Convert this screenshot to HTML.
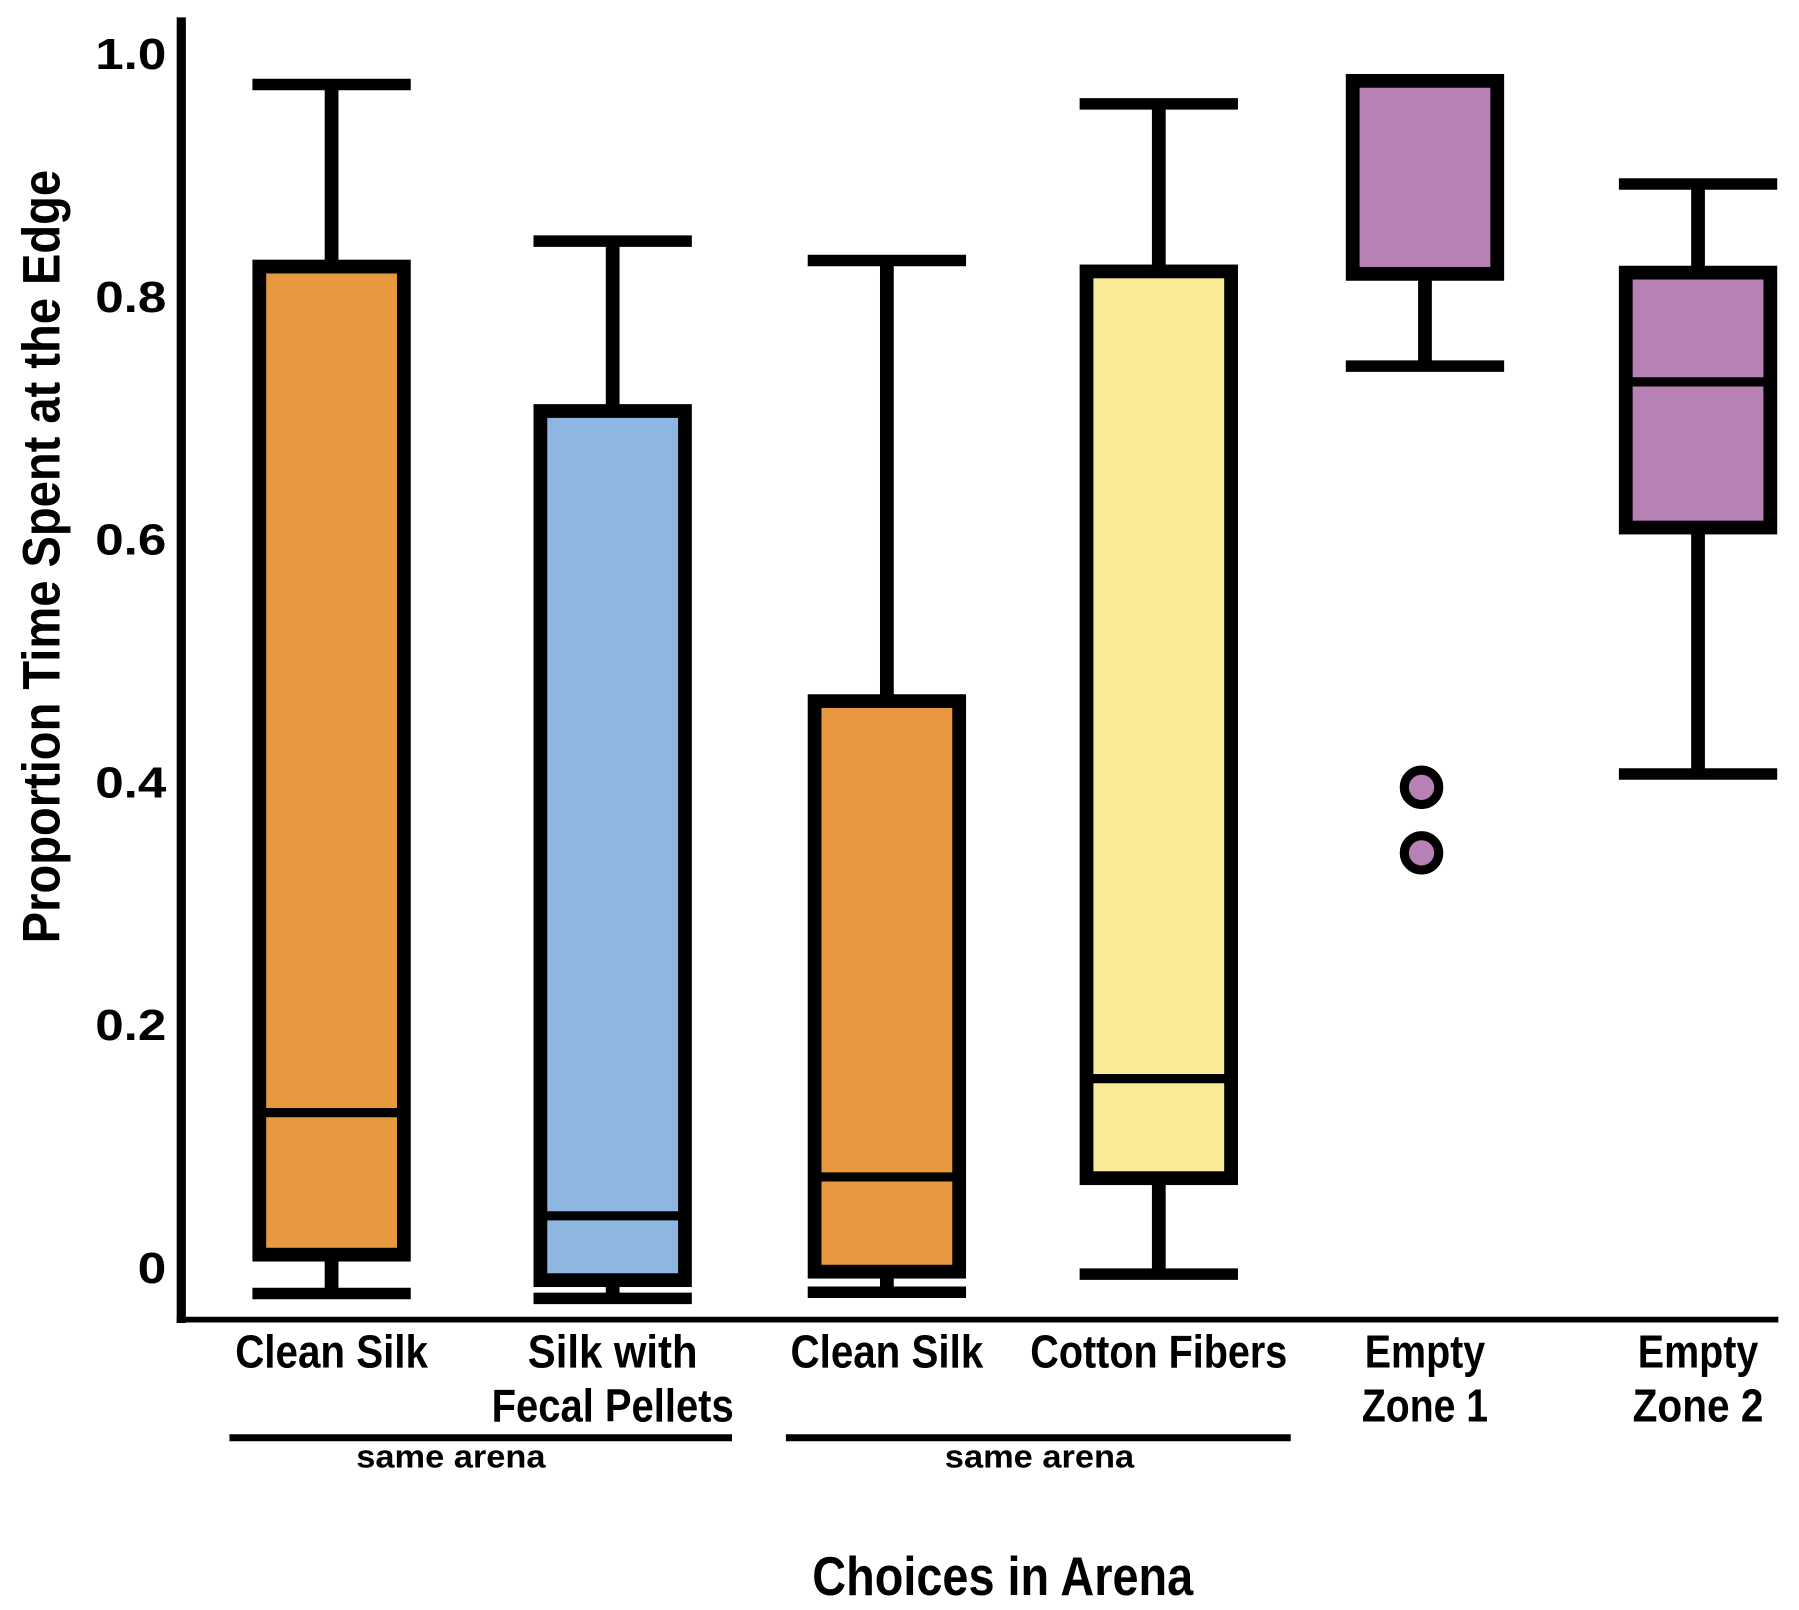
<!DOCTYPE html>
<html><head><meta charset="utf-8"><style>
html,body{margin:0;padding:0;background:#fff;}
svg{display:block;}
text{font-family:"Liberation Sans",sans-serif;font-weight:bold;fill:#000;}
</style></head><body>
<svg id="chart" width="1799" height="1610" viewBox="0 0 1568 1403" xmlns="http://www.w3.org/2000/svg">
<g id="marks"></g>
<g id="axes"></g>
</svg>
<script>
const categories = ["Clean Silk","Silk with|Fecal Pellets","Clean Silk","Cotton Fibers","Empty|Zone 1","Empty|Zone 2"];
const whiskerLow = [-0.022,-0.026,-0.021,-0.006,0.742,0.406];
const q1Values = [0.010,-0.011,-0.004,0.073,0.818,0.609];
const medianValues = [0.127,0.042,0.074,0.155,0.977,0.729];
const q3Values = [0.824,0.705,0.466,0.820,0.977,0.819];
const whiskerHigh = [0.974,0.845,0.829,0.958,0.977,0.892];
const outliers = [[],[],[],[],[0.395,0.341],[]];
const fills = ["#E8993F","#8DB6E0","#E8993F","#FAEC96","#B881B5","#B881B5"];
const yTicks = [0,0.2,0.4,0.6,0.8,1.0];
const yTickLabels = ["0","0.2","0.4","0.6","0.8","1.0"];

const NS="http://www.w3.org/2000/svg";
const y0=1104, y1=46, boxW=138;
const labelWidths={"Clean Silk":168,"Silk with":148,"Fecal Pellets":211,"Cotton Fibers":224,"Empty":105,"Zone 1":110,"Zone 2":114};
const yScale=v=>y0-(y0-y1)*v;
const xScale=i=>[289,534,773,1010,1242,1480][i];
function mk(tag,attrs,parent){const e=document.createElementNS(NS,tag);for(const k in attrs)e.setAttribute(k,attrs[k]);parent.appendChild(e);return e;}
const marks=document.getElementById('marks'), axes=document.getElementById('axes');

categories.forEach((c,i)=>{
  const cx=xScale(i);
  const g=mk('g',{},marks);
  
  
  const yq3=yScale(q3Values[i]), yq1=yScale(q1Values[i]);
  const yh=yScale(whiskerHigh[i]), yl=yScale(whiskerLow[i]);
  if(whiskerHigh[i]>q3Values[i]+0.001){
    const s=mk('line',{x1:cx,x2:cx,y1:yq3,y2:yh,stroke:'#000','stroke-width':12},g);
    
    
    const cp=mk('line',{x1:cx-69,x2:cx+69,y1:yh,y2:yh,stroke:'#000','stroke-width':10},g);
    
    
  }
  if(whiskerLow[i]<q1Values[i]-0.001){
    const s=mk('line',{x1:cx,x2:cx,y1:yq1,y2:yl,stroke:'#000','stroke-width':12},g);
    
    
    const cp=mk('line',{x1:cx-69,x2:cx+69,y1:yl,y2:yl,stroke:'#000','stroke-width':10},g);
    
    
  }
  const r=mk('rect',{x:cx-boxW/2+6,y:yq3,width:boxW-12,height:yq1-yq3,fill:fills[i],stroke:'#000','stroke-width':12},g);
  
  
  const ym=yScale(medianValues[i]);
  const m=mk('line',{x1:cx-boxW/2+6,x2:cx+boxW/2-6,y1:ym,y2:ym,stroke:'#000','stroke-width':8},g);
  
  
  outliers[i].forEach(v=>{
    const o=mk('circle',{cx:cx-3,cy:yScale(v),r:15,fill:fills[i],stroke:'#000','stroke-width':8},g);
    
    
  });
  const lines=c.split('|');
  lines.forEach((t,k)=>{
    const tx=mk('text',{x:cx,y:1192+k*47,'text-anchor':'middle','font-size':40},axes);
    tx.textContent=t;
    tx.setAttribute('textLength',labelWidths[t]||Math.round(t.length*16.5));
    tx.setAttribute('lengthAdjust','spacingAndGlyphs');
    
    
  });
});

yTicks.forEach((v,i)=>{
  const lbl=yTickLabels[i];
  const t=mk('text',{x:145,y:yScale(v)+14,'text-anchor':'end','font-size':38},axes);
  t.textContent=lbl;
  t.setAttribute('textLength',lbl.length>1?62:25);
  t.setAttribute('lengthAdjust','spacingAndGlyphs');
  
  
});

const ya=mk('line',{x1:158,x2:158,y1:15,y2:1153,stroke:'#000','stroke-width':8},axes);


const xa=mk('line',{x1:154,x2:1550,y1:1150,y2:1150,stroke:'#000','stroke-width':5},axes);



[[200,638,393],[685,1125,906]].forEach(a=>{
  const l=mk('line',{x1:a[0],x2:a[1],y1:1253,y2:1253,stroke:'#000','stroke-width':6},axes);
  
  
  const t=mk('text',{x:a[2],y:1279,'text-anchor':'middle','font-size':28,textLength:165,lengthAdjust:'spacingAndGlyphs'},axes);
  t.textContent='same arena';
  
  
});

const xt=mk('text',{x:874,y:1390,'text-anchor':'middle','font-size':48,textLength:332,lengthAdjust:'spacingAndGlyphs'},axes);
xt.textContent='Choices in Arena';


const yt=mk('text',{x:0,y:0,'text-anchor':'middle','font-size':46,textLength:674,lengthAdjust:'spacingAndGlyphs',transform:'translate(52,485) rotate(-90)'},axes);
yt.textContent='Proportion Time Spent at the Edge';


</script>
</body></html>
